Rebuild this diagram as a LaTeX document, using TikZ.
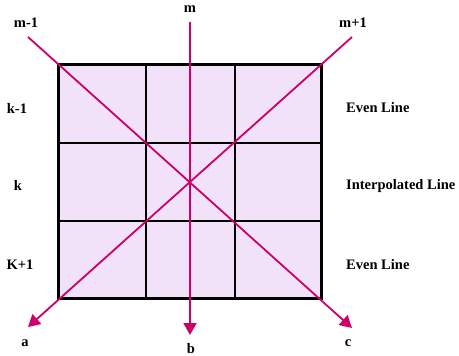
\documentclass[tikz,border=0pt]{standalone}
\usepackage{fontspec}
\setmainfont{Liberation Serif}
\usepackage{xcolor}
\usetikzlibrary{arrows.meta}
\definecolor{cellfill}{HTML}{F1E2FA}
\definecolor{dirpink}{HTML}{CC0066}

\begin{document}
\begin{tikzpicture}[
  x=1pt,y=-1pt,
  lbl/.style={font=\fontsize{14.5}{16}\selectfont\bfseries,inner sep=0pt},
  rowlbl/.style={lbl,anchor=west},
  grid/.style={line width=2pt},
  border/.style={line width=3pt},
  dir/.style={dirpink,line width=1.8pt},
  arr/.style={dir,-{Triangle[length=12pt,width=13pt]}}
]
\useasboundingbox (0,0) rectangle (459,356);

% the 3x3 block
\fill[cellfill] (58,64) rectangle (321,298);
\draw[grid] (146,64) -- (146,298);
\draw[grid] (235,64) -- (235,298);
\draw[grid] (58,143) -- (321,143);
\draw[grid] (58,221) -- (321,221);
\draw[border] (58,64) rectangle (321,298);

% column labels
\node[lbl] (mminus) at (26,23) {m-1};
\node[lbl] (mmid) at (190,9) {m};
\node[lbl] (mplus) at (353,23) {m+1};
\node[lbl] (a) at (25,343) {a};
\node[lbl] (b) at (191,349) {b};
\node[lbl] (c) at (348,343) {c};

% row labels
\node[lbl] (kminus) at (17,108) {k-1};
\node[lbl] (kmid) at (18,185) {k};
\node[lbl] (kplus) at (20,265) {K+1};
\node[rowlbl] (even1) at (346,108) {Even Line};
\node[rowlbl] (interp) at (346,186) {Interpolated Line};
\node[rowlbl] (even2) at (346,265) {Even Line};

% directions
\coordinate (sm1) at (28,37);
\coordinate (sm) at (190,22);
\coordinate (sp1) at (352,37);
\coordinate (ea) at (28,327);
\coordinate (eb) at (190,335);
\coordinate (ec) at (352,328);

\draw[arr] (sm1) -- (ec);
\draw[arr] (sp1) -- (ea);
\draw[arr] (sm) -- (eb);
\end{tikzpicture}
\end{document}
